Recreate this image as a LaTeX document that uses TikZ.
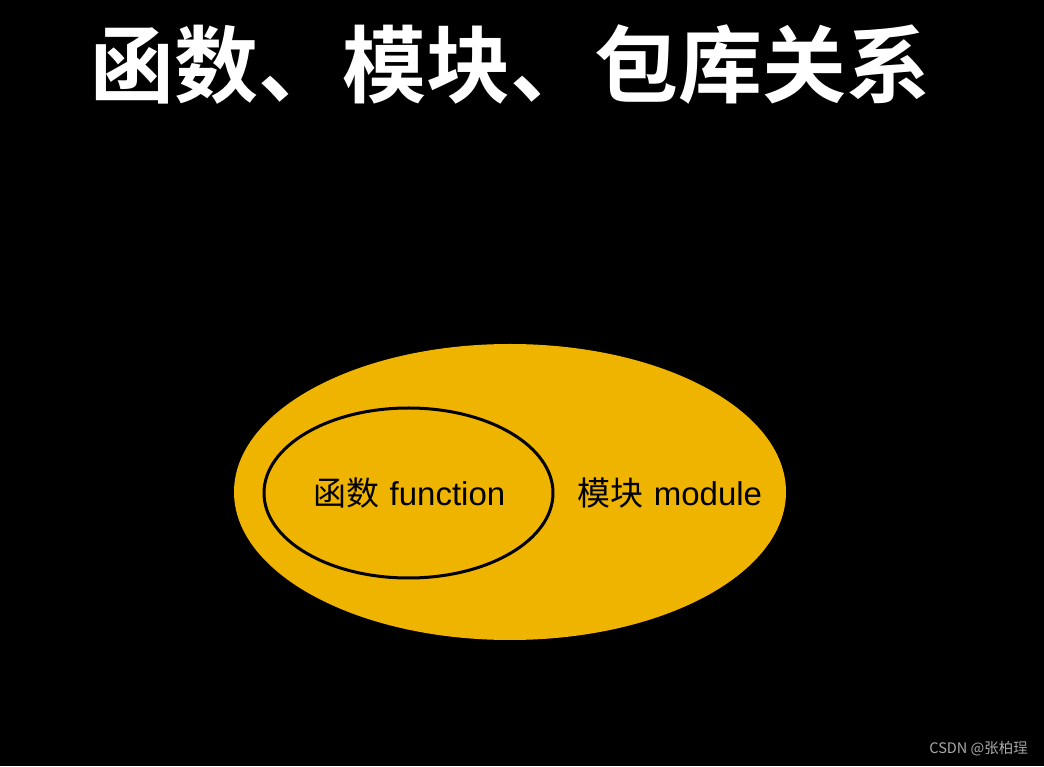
\documentclass[tikz,border=0pt]{standalone}
\usepackage{fontspec}
\newfontfamily\cjk{Noto Sans CJK SC}[BoldFont={Noto Sans CJK SC Bold}]
\newfontfamily\lat{Liberation Sans}
\definecolor{goldfill}{RGB}{239,180,0}
\definecolor{wmgray}{RGB}{170,170,170}
\tikzset{
  titletext/.style={text=white, font=\cjk\bfseries\fontsize{84}{92}\selectfont, inner sep=0pt},
  labeltext/.style={text=black, font=\fontsize{33}{38}\selectfont, inner sep=0pt},
  wmtext/.style={text=wmgray, font=\cjk\fontsize{14.5}{16}\selectfont, inner sep=0pt}
}
\begin{document}
\begin{tikzpicture}[x=1pt,y=1pt]
\fill[black] (0,0) rectangle (1044,766);
\useasboundingbox (0,0) rectangle (1044,766);
\node[titletext] (title) at (510,701) {函数、模块、包库关系};
\fill[goldfill] (510,274) ellipse [x radius=276, y radius=148];
\coordinate (outer) at (510,274);
\draw[black, line width=3pt] (408.5,273) ellipse [x radius=144.5, y radius=85];
\coordinate (inner) at (408.5,273);
\node[labeltext] (fn) at (409.5,273) {{\cjk 函数} {\lat function}};
\node[labeltext] (mod) at (670,273) {{\cjk 模块} {\lat module}};
\node[wmtext, anchor=east] (wm) at (1028,17) {CSDN @张柏珵};
\end{tikzpicture}
\end{document}
